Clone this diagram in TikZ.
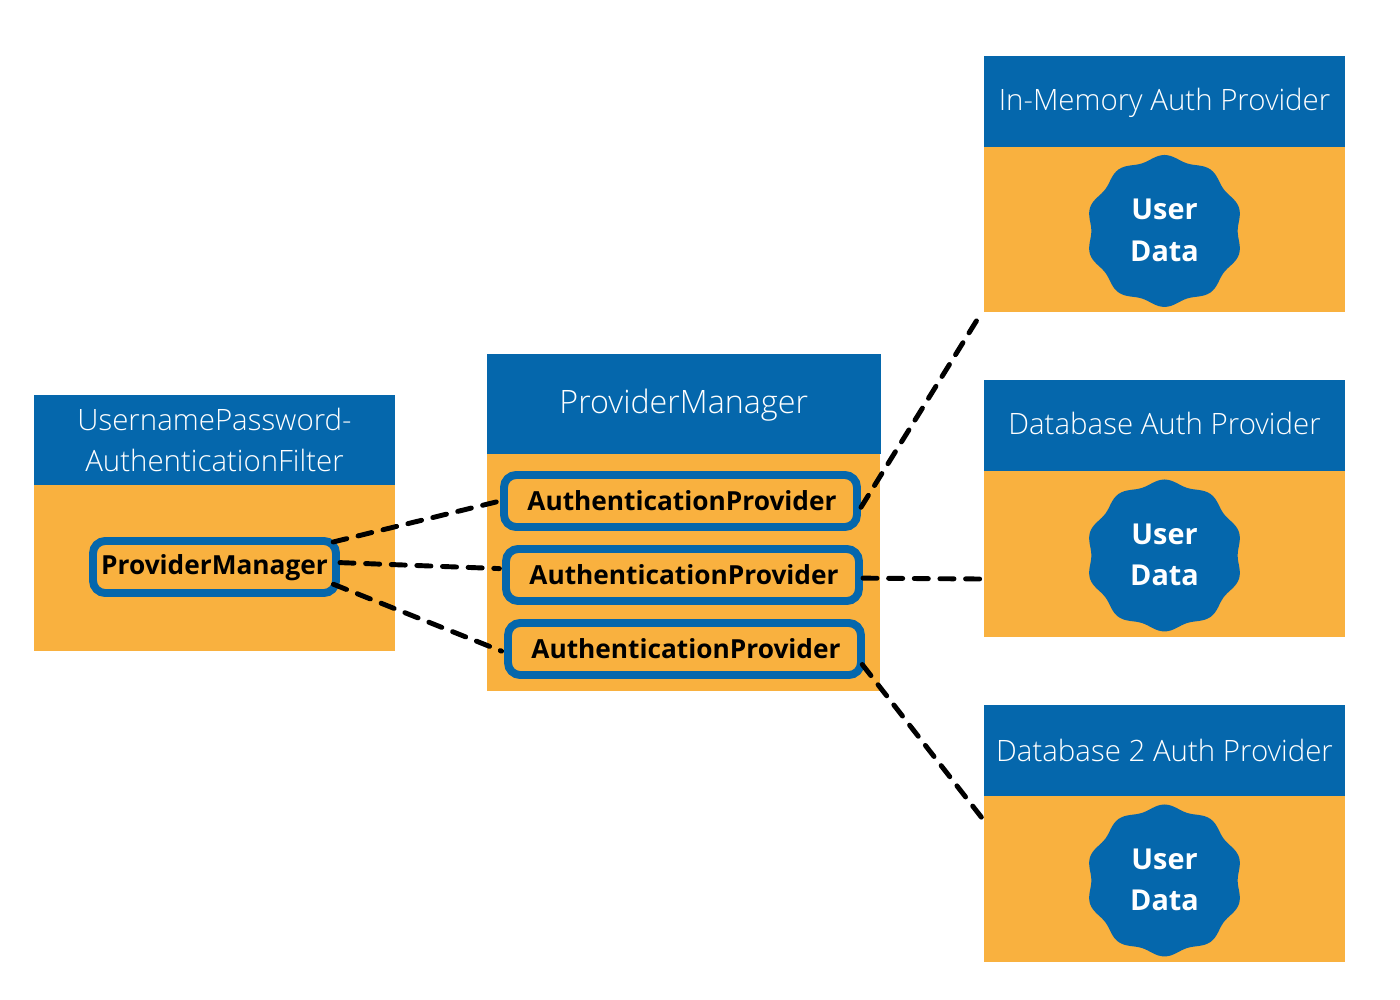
\documentclass[tikz,border=0pt]{standalone}
\usepackage{fontspec}
\setmainfont{Open Sans}
\newfontfamily\HeadFont{Open Sans Light}
\usetikzlibrary{positioning}
\definecolor{HeadBlue}{HTML}{0567AC}
\definecolor{BodyOrange}{HTML}{F9B13F}
\tikzset{
	HeadBox/.style={fill=HeadBlue, text=white, inner sep=0pt, outer sep=0pt, align=center, font=\HeadFont\fontsize{16.75}{23}\selectfont},
	BodyBox/.style={fill=BodyOrange, inner sep=0pt, outer sep=0pt},
	InnerBox/.style={draw=HeadBlue, fill=BodyOrange, line width=4.5pt, rounded corners=7pt, inner sep=0pt, font=\bfseries\fontsize{14.95}{18}\selectfont},
	BadgeText/.style={text=white, align=center, inner sep=0pt, yshift=-0.5pt, font=\bfseries\fontsize{16.4}{23.4}\selectfont},
	Link/.style={line width=2.8pt, line cap=round, dash pattern=on 8pt off 6.6pt}
}
\begin{document}
\begin{tikzpicture}[x=0.02cm, y=-0.02cm]
	\pgfmathsetmacro{\BadgeMid}{73.5}
	\pgfmathsetmacro{\BadgeWave}{2.5}
	\pgfmathsetmacro{\BadgeWide}{1.03}
	\useasboundingbox (0,0) rectangle (1400,1000);
	
	% FILTER
	\node[HeadBox, minimum width=7.22cm, minimum height=1.82cm] (FilterHead) at (214.5,440) {UsernamePassword-\\AuthenticationFilter};
	\node[BodyBox, minimum width=7.21cm, minimum height=3.32cm, below=0pt of FilterHead] (FilterBody) {};
	
	% MANAGER
	\node[HeadBox, minimum width=7.88cm, minimum height=2cm, text height=15.6pt] (ManagerHead) at (683.75,404) {\fontsize{18.35}{23}\selectfont ProviderManager};
	\node[BodyBox, minimum width=7.86cm, minimum height=4.74cm, below=0pt of ManagerHead] (ManagerBody) {};
	
	% IN-MEMORY
	\node[HeadBox, minimum width=7.22cm, minimum height=1.82cm, text height=14.2pt] (MemoryHead) at (1164.5,101.5) {In-Memory Auth Provider};
	\node[BodyBox, minimum width=7.21cm, minimum height=3.3cm, below=0pt of MemoryHead] (MemoryBody) {};
	
	% DATABASE
	\node[HeadBox, minimum width=7.22cm, minimum height=1.82cm, text depth=2.3pt] (DatabaseHead) at (1164.5,425.5) {Database Auth Provider};
	\node[BodyBox, minimum width=7.21cm, minimum height=3.32cm, below=0pt of DatabaseHead] (DatabaseBody) {};
	
	% DATABASE 2
	\node[HeadBox, minimum width=7.22cm, minimum height=1.82cm] (SecondHead) at (1164.5,750.5) {Database 2 Auth Provider};
	\node[BodyBox, minimum width=7.21cm, minimum height=3.32cm, below=0pt of SecondHead] (SecondBody) {};
	
	% BADGES
	\fill[HeadBlue, shift={(MemoryBody.center)}, yshift=-0.03cm] plot[smooth cycle, samples=80, domain=0:355.5] ({\BadgeWide*(\BadgeMid+\BadgeWave*cos(10*(\x-90)))*cos(\x)},{(\BadgeMid+\BadgeWave*cos(10*(\x-90)))*sin(\x)});
	\fill[HeadBlue, shift={(DatabaseBody.center)}, yshift=-0.03cm] plot[smooth cycle, samples=80, domain=0:355.5] ({\BadgeWide*(\BadgeMid+\BadgeWave*cos(10*(\x-90)))*cos(\x)},{(\BadgeMid+\BadgeWave*cos(10*(\x-90)))*sin(\x)});
	\fill[HeadBlue, shift={(SecondBody.center)}, yshift=-0.03cm] plot[smooth cycle, samples=80, domain=0:355.5] ({\BadgeWide*(\BadgeMid+\BadgeWave*cos(10*(\x-90)))*cos(\x)},{(\BadgeMid+\BadgeWave*cos(10*(\x-90)))*sin(\x)});
	\node[BadgeText] (MemoryData) at (MemoryBody.center) {User\\Data};
	\node[BadgeText] (DatabaseData) at (DatabaseBody.center) {User\\Data};
	\node[BadgeText] (SecondData) at (SecondBody.center) {User\\Data};
	
	% FREE ENDS
	\coordinate (MemoryEnd) at (977,320);
	\coordinate (DatabaseEnd) at (980,579);
	\coordinate (SecondEnd) at (982,818);
	
	% INNER BOXES
	\node[InnerBox, minimum width=5.02cm-4.5pt, minimum height=1.2cm-4.5pt, text height=12.1pt] (ProviderBox) at (214.5,567) {ProviderManager};
	\node[InnerBox, minimum width=7.22cm-4.5pt, minimum height=1.2cm-4.5pt, text depth=0.5pt] (AuthA) at (680.5,501) {\hspace*{1.7pt}AuthenticationProvider};
	\node[InnerBox, minimum width=7.22cm-4.5pt, minimum height=1.2cm-4.5pt, text depth=0.5pt] (AuthB) at (682.5,575) {\hspace*{1.7pt}AuthenticationProvider};
	\node[InnerBox, minimum width=7.22cm-4.5pt, minimum height=1.2cm-4.5pt, text depth=1.1pt] (AuthC) at (684.5,649) {\hspace*{1.7pt}AuthenticationProvider};
	
	% LINKS
	\draw[Link, shorten <=-4pt, shorten >=1.5pt] (ProviderBox.12) -- (AuthA.west);
	\draw[Link, shorten >=1.5pt] (ProviderBox.2) -- (AuthB.178);
	\draw[Link, shorten <=-4pt, shorten >=1.5pt] (ProviderBox.-9) -- (AuthC.-179);
	\draw[Link] (AuthA.-2) -- (MemoryEnd);
	\draw[Link] (AuthB.-1) -- (DatabaseEnd);
	\draw[Link, shorten <=-2.5pt] (AuthC.-6) -- (SecondEnd);
\end{tikzpicture}
\end{document}
